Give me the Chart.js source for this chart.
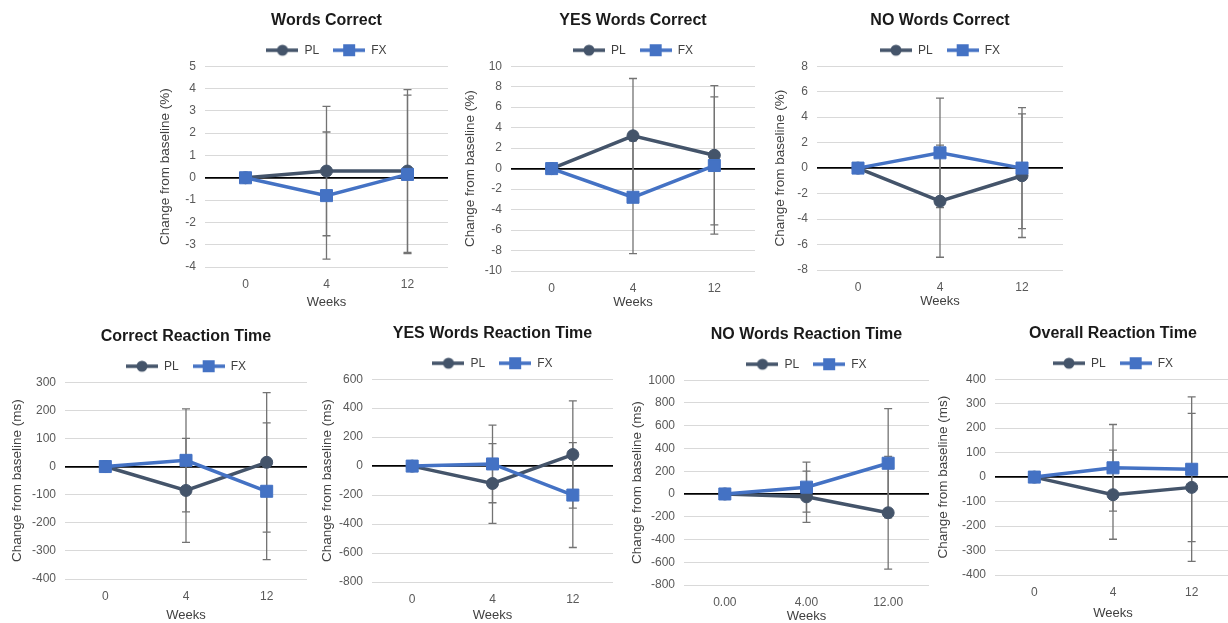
<!DOCTYPE html>
<html>
<head>
<meta charset="utf-8">
<script src="https://cdn.jsdelivr.net/npm/chart.js@4.4.1/dist/chart.umd.min.js"></script>
<style>
  html, body { margin: 0; background: #fff; width: 1228px; height: 623px; overflow: hidden; position: relative; }
  canvas { position: absolute; }
</style>
</head>
<body>
<script>
// week labels on the x axis
const weekLabels = ['0', '4', '12'];
const weekLabelsDec = ['0.00', '4.00', '12.00'];

// Words Correct (%)
const wordsPL = [0, 0.3, 0.3];
const wordsFX = [0, -0.8, 0.15];
const wordsPLsd = [0, 2.9, 3.65];
const wordsFXsd = [0, 2.85, 3.55];

// YES Words Correct (%)
const yesPL = [0, 3.2, 1.3];
const yesFX = [0, -2.8, 0.3];
const yesPLsd = [0, 5.6, 6.8];
const yesFXsd = [0, 5.5, 6.7];

// NO Words Correct (%)
const noPL = [0, -2.6, -0.6];
const noFX = [0, 1.2, 0];
const noPLsd = [0, 4.4, 4.85];
const noFXsd = [0, 4.3, 4.75];

// Correct Reaction Time (ms)
const crtPL = [0, -85, 15];
const crtFX = [0, 22, -88];
const crtPLsd = [0, 185, 248];
const crtFXsd = [0, 183, 243];

// YES Words Reaction Time (ms)
const yrtPL = [0, -120, 80];
const yrtFX = [0, 15, -200];
const yrtPLsd = [0, 275, 370];
const yrtFXsd = [0, 268, 362];

// NO Words Reaction Time (ms)
const nrtPL = [0, -25, -165];
const nrtFX = [0, 60, 270];
const nrtPLsd = [0, 225, 495];
const nrtFXsd = [0, 220, 480];

// Overall Reaction Time (ms)
const ortPL = [0, -72, -42];
const ortFX = [0, 38, 32];
const ortPLsd = [0, 182, 302];
const ortFXsd = [0, 177, 296];

const PL_COLOR = '#44546A';
const FX_COLOR = '#4472C4';
const FONT = '"Liberation Sans", Arial, sans-serif';

const panels = [
  { title: 'Words Correct', yTitle: 'Change from baseline (%)', labels: weekLabels, pl: wordsPL, fx: wordsFX, plSd: wordsPLsd, fxSd: wordsFXsd, min: -4, max: 5, step: 1,
    box: { left: 157, plotLeft: 205, plotRight: 448, plotTop: 66, plotBottom: 267, weeksY: 302 } },
  { title: 'YES Words Correct', yTitle: 'Change from baseline (%)', labels: weekLabels, pl: yesPL, fx: yesFX, plSd: yesPLsd, fxSd: yesFXsd, min: -10, max: 10, step: 2,
    box: { left: 462, plotLeft: 511, plotRight: 755, plotTop: 66, plotBottom: 271, weeksY: 302 } },
  { title: 'NO Words Correct', yTitle: 'Change from baseline (%)', labels: weekLabels, pl: noPL, fx: noFX, plSd: noPLsd, fxSd: noFXsd, min: -8, max: 8, step: 2,
    box: { left: 772, plotLeft: 817, plotRight: 1063, plotTop: 66, plotBottom: 270, weeksY: 301 } },
  { title: 'Correct Reaction Time', yTitle: 'Change from baseline (ms)', labels: weekLabels, pl: crtPL, fx: crtFX, plSd: crtPLsd, fxSd: crtFXsd, min: -400, max: 300, step: 100,
    box: { left: 9, plotLeft: 65, plotRight: 307, plotTop: 382, plotBottom: 579, weeksY: 615 } },
  { title: 'YES Words Reaction Time', yTitle: 'Change from baseline (ms)', labels: weekLabels, pl: yrtPL, fx: yrtFX, plSd: yrtPLsd, fxSd: yrtFXsd, min: -800, max: 600, step: 200,
    box: { left: 319, plotLeft: 372, plotRight: 613, plotTop: 379, plotBottom: 582, weeksY: 615 } },
  { title: 'NO Words Reaction Time', yTitle: 'Change from baseline (ms)', labels: weekLabelsDec, pl: nrtPL, fx: nrtFX, plSd: nrtPLsd, fxSd: nrtFXsd, min: -800, max: 1000, step: 200,
    box: { left: 629, plotLeft: 684, plotRight: 929, plotTop: 380, plotBottom: 585, weeksY: 616 } },
  { title: 'Overall Reaction Time', yTitle: 'Change from baseline (ms)', labels: weekLabels, pl: ortPL, fx: ortFX, plSd: ortPLsd, fxSd: ortFXsd, min: -400, max: 400, step: 100,
    box: { left: 935, plotLeft: 995, plotRight: 1231, plotTop: 379, plotBottom: 575, weeksY: 613 } },
];

// line segment with the marker in the middle, used as legend symbol
function legendIcon(color, shape) {
  const c = document.createElement('canvas');
  c.width = 32; c.height = 14;
  const g = c.getContext('2d');
  g.strokeStyle = color; g.lineWidth = 3.5;
  g.beginPath(); g.moveTo(0, 7); g.lineTo(32, 7); g.stroke();
  g.fillStyle = color;
  if (shape === 'circle') { g.beginPath(); g.arc(16, 7, 5.5, 0, Math.PI * 2); g.fill(); }
  else g.fillRect(10, 1, 12, 12);
  return c;
}

// vertical +/- error bars with caps, drawn under the lines
const errorBars = {
  id: 'errorBars',
  beforeDatasetsDraw(chart) {
    const { ctx, scales: { y } } = chart;
    ctx.save();
    ctx.strokeStyle = '#737373';
    ctx.lineWidth = 1.3;
    chart.data.datasets.forEach((ds, i) => {
      const meta = chart.getDatasetMeta(i);
      ds.errors.forEach((e, j) => {
        if (!e) return;
        const x = meta.data[j].x, v = ds.data[j];
        const t = y.getPixelForValue(v + e), b = y.getPixelForValue(v - e);
        ctx.beginPath();
        ctx.moveTo(x, t); ctx.lineTo(x, b);
        ctx.moveTo(x - 4, t); ctx.lineTo(x + 4, t);
        ctx.moveTo(x - 4, b); ctx.lineTo(x + 4, b);
        ctx.stroke();
      });
    });
    ctx.restore();
  }
};

panels.forEach(p => {
  const b = p.box;
  const top = b.plotTop - 55;
  const bottom = b.weeksY + 8;
  const right = b.plotRight + 24;
  const cv = document.createElement('canvas');
  cv.width = right - b.left;
  cv.height = bottom - top;
  cv.style.left = b.left + 'px';
  cv.style.top = top + 'px';
  document.body.appendChild(cv);

  new Chart(cv, {
    type: 'line',
    data: {
      labels: p.labels,
      datasets: [
        { label: 'PL', data: p.pl, errors: p.plSd, borderColor: PL_COLOR, backgroundColor: PL_COLOR, borderWidth: 3.5,
          pointStyle: 'circle', pointRadius: 6, pointBorderWidth: 1, order: 1, legendIcon: legendIcon(PL_COLOR, 'circle') },
        { label: 'FX', data: p.fx, errors: p.fxSd, borderColor: FX_COLOR, backgroundColor: FX_COLOR, borderWidth: 3.5,
          pointStyle: 'rect', pointRadius: 8.5, pointBorderWidth: 1, order: 0, legendIcon: legendIcon(FX_COLOR, 'rect') },
      ],
    },
    options: {
      responsive: false,
      animation: false,
      layout: { padding: { left: 0, right: right - b.plotRight, top: 0, bottom: 0 } },
      plugins: {
        tooltip: { enabled: false },
        title: { display: true, fullSize: false, text: p.title, color: '#1a1a1a', font: { family: FONT, size: 16, weight: 'bold' }, padding: { top: 0, bottom: 0 } },
        legend: {
          position: 'top',
          fullSize: false,
          labels: {
            usePointStyle: true, pointStyleWidth: 32, padding: 14, color: '#404040',
            font: { family: FONT, size: 12 },
            generateLabels: chart => chart.data.datasets.map((ds, i) => ({
              text: ds.label, pointStyle: ds.legendIcon, fillStyle: ds.borderColor, strokeStyle: ds.borderColor,
              lineWidth: 0, datasetIndex: i, fontColor: '#404040',
            })),
          },
        },
      },
      scales: {
        x: {
          offset: true,
          grid: { display: false, drawTicks: false, offset: true },
          border: { display: false },
          ticks: { color: '#595959', font: { family: FONT, size: 12 }, padding: 10 },
          title: { display: true, text: 'Weeks', color: '#404040', font: { family: FONT, size: 13 }, padding: 0 },
          afterFit: s => { s.height = bottom - b.plotBottom; },
        },
        y: {
          min: p.min, max: p.max,
          grid: {
            drawTicks: false,
            color: c => c.tick && c.tick.value === 0 ? '#000000' : '#d9d9d9',
            lineWidth: c => c.tick && c.tick.value === 0 ? 1.8 : 1,
          },
          border: { display: false },
          ticks: { stepSize: p.step, color: '#595959', font: { family: FONT, size: 12 }, padding: 9, callback: v => String(v) },
          title: { display: true, text: p.yTitle, color: '#404040', font: { family: FONT, size: 13.5 }, padding: 0 },
          afterFit: s => { s.width = b.plotLeft - b.left; },
        },
      },
    },
    plugins: [errorBars],
  });
});
</script>
</body>
</html>
